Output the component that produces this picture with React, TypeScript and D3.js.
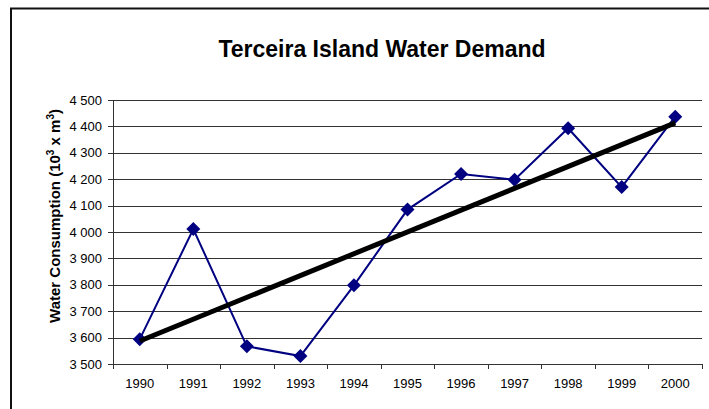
import React from "react";
import * as d3 from "d3";

const years = ["1990","1991","1992","1993","1994","1995","1996","1997","1998","1999","2000"];
const consumption = [3594, 4011, 3567, 3530, 3798, 4085, 4220, 4198, 4393, 4170, 4437];
const yTicks = [3500, 3600, 3700, 3800, 3900, 4000, 4100, 4200, 4300, 4400, 4500];
const title = "Terceira Island Water Demand";

export default function App() {
  const W = 709, H = 409;
  const left = 113, right = 702, top = 100, bottom = 364;
  const x = d3.scaleBand<string>().domain(years).range([left, right]);
  const y = d3.scaleLinear().domain([3500, 4500]).range([bottom, top]);
  const cx = (d: string) => (x(d) as number) + x.bandwidth() / 2;

  const line = d3.line<number>().x((_, i) => cx(years[i])).y((v) => y(v));

  // linear regression trendline
  const n = consumption.length;
  const xs = consumption.map((_, i) => i);
  const mx = d3.mean(xs) as number;
  const my = d3.mean(consumption) as number;
  const slope = d3.sum(xs, (xi, i) => (xi - mx) * (consumption[i] - my)) / d3.sum(xs, (xi) => (xi - mx) ** 2);
  const intercept = my - slope * mx;
  const trend = [intercept, intercept + slope * (n - 1)];

  const fmt = (v: number) => d3.format(",")(v).replace(",", " ");
  const font = "Arial, 'Liberation Sans', Helvetica, sans-serif";

  return (
    <svg width={W} height={H} style={{ position: "absolute", left: 0, top: 0 }} fontFamily={font}>
      <rect x={0} y={0} width={W} height={H} fill="#fff" />
      <rect x={11} y={8.5} width={W + 20} height={H + 20} fill="none" stroke="#111" strokeWidth={2} />
      <text x={382} y={57} textAnchor="middle" fontSize={23} fontWeight="bold">{title}</text>
      {yTicks.map((t) => (
        <g key={t}>
          <line x1={left} x2={right} y1={Math.round(y(t)) + 0.5} y2={Math.round(y(t)) + 0.5} stroke="#333" strokeWidth={1} />
          <line x1={left - 5} x2={left} y1={Math.round(y(t)) + 0.5} y2={Math.round(y(t)) + 0.5} stroke="#333" />
          <text x={102} y={y(t) + 4.5} textAnchor="end" fontSize={13}>{fmt(t)}</text>
        </g>
      ))}
      <line x1={left + 0.5} x2={left + 0.5} y1={top} y2={bottom} stroke="#333" />
      {d3.range(years.length + 1).map((i) => {
        const xx = Math.round(left + i * x.step()) + 0.5;
        return <line key={i} x1={xx} x2={xx} y1={bottom} y2={bottom + 5} stroke="#333" />;
      })}
      {years.map((yr) => (
        <text key={yr} x={cx(yr)} y={387.5} textAnchor="middle" fontSize={13}>{yr}</text>
      ))}
      <text transform={`translate(60,216) rotate(-90)`} textAnchor="middle" fontSize={15} fontWeight="bold">
        Water Consumption (10<tspan dy={-6} fontSize={10}>3</tspan><tspan dy={6}> x m</tspan><tspan dy={-6} fontSize={10}>3</tspan><tspan dy={6}>)</tspan>
      </text>
      <path d={line(consumption) || ""} fill="none" stroke="#000080" strokeWidth={2} />
      {consumption.map((v, i) => {
        const px = cx(years[i]), py = y(v), s = 7;
        return <path key={i} d={`M${px},${py - s}L${px + s},${py}L${px},${py + s}L${px - s},${py}Z`} fill="#000080" />;
      })}
      <line x1={cx(years[0])} y1={y(trend[0])} x2={cx(years[n - 1])} y2={y(trend[1])} stroke="#000" strokeWidth={5} />
    </svg>
  );
}
